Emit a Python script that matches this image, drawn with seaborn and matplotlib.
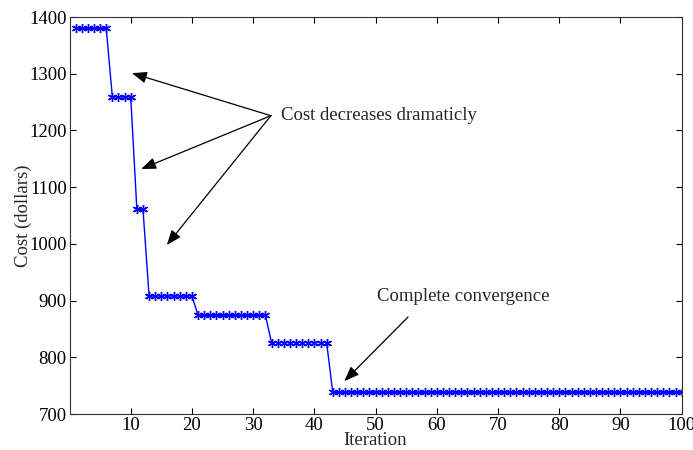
import numpy as np
import pandas as pd
import matplotlib
matplotlib.use("Agg")
import matplotlib.pyplot as plt
import seaborn as sns

# cost level per stage and how many iterations it lasts
levels = [1380, 1259, 1061, 908, 874, 826, 738]
counts = [6, 4, 2, 8, 12, 10, 58]

iteration = np.arange(1, sum(counts) + 1)
cost = np.repeat(levels, counts)
df = pd.DataFrame({"Iteration": iteration, "Cost": cost})

sns.set_style("ticks")
plt.rcParams["font.family"] = ["Liberation Serif", "DejaVu Serif"]

fig = plt.figure(figsize=(6.93, 4.5), dpi=100)
ax = fig.add_axes([0.1003, 0.08, 0.8834, 0.8822])

# asterisk marker like matlab's '*'
sns.lineplot(data=df, x="Iteration", y="Cost", ax=ax, color="#0000ff",
             linewidth=1.0, marker=(6, 2, 0), markersize=6.5,
             markeredgecolor="#0000ff", markeredgewidth=1.0)

ax.set_xlim(0, 100)
ax.set_ylim(700, 1400)
ax.set_xticks(range(10, 101, 10))
ax.set_yticks(range(700, 1401, 100))
ax.tick_params(direction="in", length=4.5, width=0.8, labelsize=13.5,
               top=True, right=True, pad=2, colors="black")
for s in ax.spines.values():
    s.set_linewidth(0.8)
    s.set_color("#333333")

ax.set_xlabel("Iteration", fontsize=13.5, labelpad=-1)
ax.set_ylabel("Cost (dollars)", fontsize=13.5, labelpad=-2)

arrow = dict(arrowstyle="-|>,head_length=0.9,head_width=0.35", color="black",
             lw=0.9, shrinkA=0, shrinkB=0)
for hx, hy in [(10.2, 1301), (11.7, 1132), (15.9, 998)]:
    ax.annotate("", xy=(hx, hy), xytext=(32.9, 1226), arrowprops=arrow)
ax.text(34.5, 1226, "Cost decreases dramaticly", fontsize=13.5, va="center", ha="left")

ax.annotate("", xy=(44.9, 758), xytext=(55.3, 871), arrowprops=arrow)
ax.text(50.3, 907, "Complete convergence", fontsize=13.5, va="center", ha="left")

fig.savefig("out.png", dpi=100)
